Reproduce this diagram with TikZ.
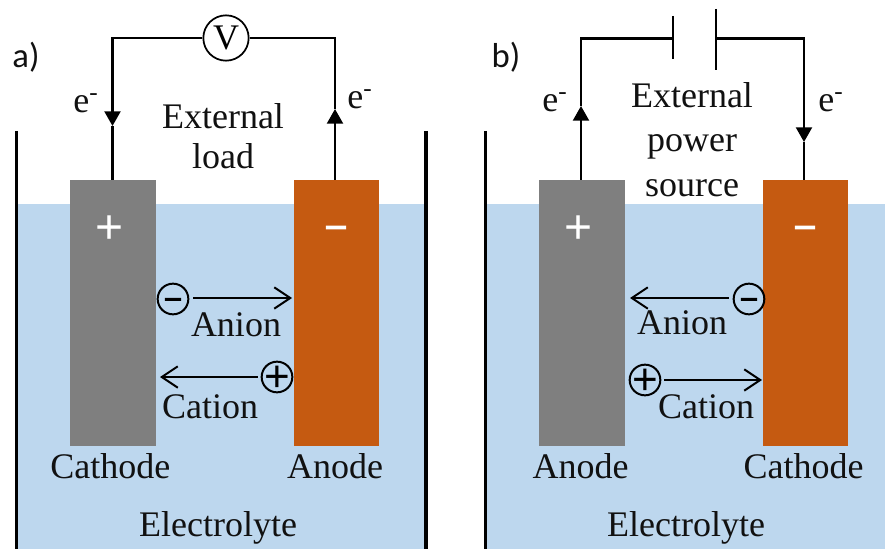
\documentclass[tikz,border=0pt]{standalone}
\usepackage{fontspec}
\setmainfont{Liberation Serif}
\setsansfont{Carlito}
\newfontfamily\signfont{Liberation Sans}
\newfontfamily\heavyfont[FakeBold=5]{Liberation Sans}
\usetikzlibrary{arrows.meta, positioning}
\definecolor{waterblue}{HTML}{BDD7EE}
\definecolor{plategray}{HTML}{7F7F7F}
\definecolor{plateorange}{HTML}{C55A11}
\definecolor{inkblack}{HTML}{111111}
\newcommand{\plussign}{\raisebox{-0.34em}[0pt][0pt]{+}}
\newcommand{\minussign}{\raisebox{-0.27em}[0pt][0pt]{–}}
\tikzset{
  plate/.style={minimum width=64.5pt, minimum height=199.5pt, inner sep=0pt},
  wire/.style={line width=1.6pt, black},
  eflow/.style={wire, -{Triangle[length=11pt, width=12pt]}},
  ionflow/.style={line width=1.5pt, black, -{Straight Barb[length=12pt, width=16pt]}},
  wall/.style={line width=2.6pt, black},
  lbl/.style={font=\fontsize{27}{27}\selectfont, text=inkblack, inner sep=0pt},
  panel/.style={font=\sffamily\fontsize{26}{26}\selectfont, text=inkblack, inner sep=0pt},
  signplus/.style={font=\signfont\fontsize{36}{36}\selectfont, text=white, inner sep=0pt},
  signminus/.style={font=\heavyfont\fontsize{25}{25}\selectfont, text=white, inner sep=0pt},
  ion/.style={draw, circle, line width=1.5pt, minimum size=23pt, inner sep=0pt},
  ionplus/.style={ion, font=\signfont\fontsize{33}{33}\selectfont},
  ionminus/.style={ion, font=\heavyfont\fontsize{20}{20}\selectfont},
  meter/.style={draw, circle, line width=1.3pt, minimum size=34pt, inner sep=0pt, font=\fontsize{27}{27}\selectfont, fill=white},
}
\begin{document}
\begin{tikzpicture}[x=0.75pt, y=-0.75pt]
\useasboundingbox (0,0) rectangle (885,549);
% electrolyte
\fill[waterblue] (17,203.5) rectangle (426,549);
\fill[waterblue] (487,203.5) rectangle (885,549);
\draw[wall] (16.5,131) -- (16.5,549);
\draw[wall] (426,131) -- (426,549);
\draw[wall] (485.5,131) -- (485.5,549);
% panel a
\node[panel] (tagA) at (26,57) {a)};
\node[plate, fill=plategray] (catA) at (113,313) {};
\node[plate, fill=plateorange, minimum width=64pt, right=103pt of catA] (anA) {};
\node[meter] (voltA) at (226,38) {V};
\coordinate (tipA) at (112.5,126);
\coordinate (tipB) at (335,109);
\draw[eflow] (voltA.west) -| (tipA);
\draw[wire] (tipA) -- (tipA |- catA.north);
\draw[wire] (voltA.east) -| (tipB);
\draw[eflow] (tipB |- anA.north) -- (tipB);
\node[lbl] (eA) at (86,103) {e\textsuperscript{-}};
\node[lbl] (eB) at (360,99) {e\textsuperscript{-}};
\node[lbl] (extA) at (223,116) {External};
\node[lbl, below=11pt of extA] (loadA) {load};
\node[signplus] (plusA) at (110,227) {\plussign};
\node[signminus] (minusA) at (336,227) {\minussign};
\node[ionminus] (anionA) at (173,299) {\minussign};
\node[ionplus] (cationA) at (277,377) {\plussign};
\coordinate (endA) at (292,298);
\coordinate (endB) at (160,377);
\draw[ionflow] (anionA.east |- endA) ++(4,0) -- (endA);
\draw[ionflow] (cationA.west |- endB) ++(-3,0) -- (endB);
\node[lbl] (anionlblA) at (236,325) {Anion};
\node[lbl] (cationlblA) at (210,407) {Cation};
\node[lbl, below=5pt of catA, xshift=-2pt] (catlblA) {Cathode};
\node[lbl, below=5pt of anA, xshift=-1pt] (anlblA) {Anode};
\node[lbl] (elecA) at (218,528) {Electrolyte};
% panel b
\node[panel] (tagB) at (506,57) {b)};
\node[plate, fill=plategray] (anB) at (582,313) {};
\node[plate, fill=plateorange, minimum width=64pt, right=103pt of anB] (catB) {};
\coordinate (capL) at (673,38.5);
\coordinate (capR) at (716,38.5);
\coordinate (tipC) at (581,106);
\coordinate (tipD) at (804,142);
\draw[wire] (capL |- 0,16) -- (capL |- 0,59);
\draw[wire] (capR |- 0,9) -- (capR |- 0,70);
\draw[wire] (capL) -| (tipC);
\draw[eflow] (tipC |- anB.north) -- (tipC);
\draw[eflow] (capR) -| (tipD);
\draw[wire] (tipD) -- (tipD |- catB.north);
\node[lbl] (eC) at (555,102) {e\textsuperscript{-}};
\node[lbl] (eD) at (831,102) {e\textsuperscript{-}};
\node[lbl] (extB) at (692,95) {External};
\node[lbl] (powerB) at (692,147) {power};
\node[lbl] (sourceB) at (692,188) {source};
\node[signplus] (plusB) at (579,227) {\plussign};
\node[signminus] (minusB) at (805,227) {\minussign};
\node[ionminus] (anionB) at (749,299) {\minussign};
\node[ionplus] (cationB) at (645,380) {\plussign};
\coordinate (endC) at (630,298);
\coordinate (endD) at (762,380);
\draw[ionflow] (anionB.west |- endC) ++(-4,0) -- (endC);
\draw[ionflow] (cationB.east |- endD) ++(3,0) -- (endD);
\node[lbl] (anionlblB) at (682,323) {Anion};
\node[lbl] (cationlblB) at (706,407) {Cation};
\node[lbl, below=5pt of anB, xshift=-1pt] (anlblB) {Anode};
\node[lbl, below=5pt of catB, xshift=-1.5pt] (catlblB) {Cathode};
\node[lbl] (elecB) at (686,528) {Electrolyte};
\end{tikzpicture}
\end{document}
